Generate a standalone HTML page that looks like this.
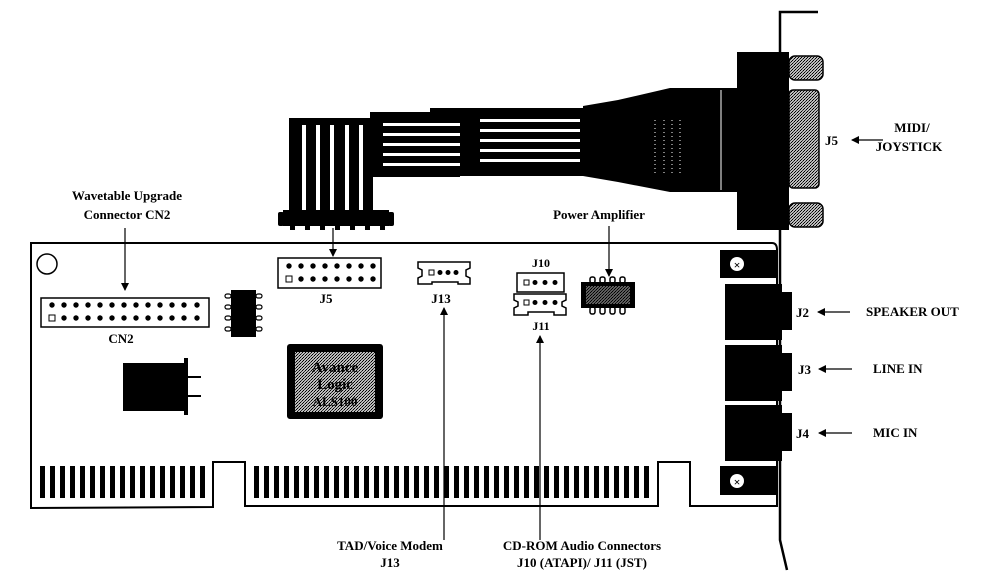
<!DOCTYPE html>
<html><head><meta charset="utf-8"><style>
html,body{margin:0;padding:0;background:#fff;}
svg{display:block;}
text{font-family:"Liberation Serif",serif;font-weight:bold;fill:#000;}
</style></head><body>
<svg width="984" height="579" viewBox="0 0 984 579" xmlns="http://www.w3.org/2000/svg">
<defs>
<pattern id="g" width="3" height="3" patternUnits="userSpaceOnUse"><rect width="3" height="3" fill="#bbb"/><rect width="1" height="1" fill="#000"/><rect x="2" y="1" width="1" height="1" fill="#000"/><rect x="1" y="2" width="1" height="1" fill="#333"/></pattern>
<marker id="ah" markerWidth="8" markerHeight="8" refX="7" refY="4" orient="auto" markerUnits="userSpaceOnUse"><path d="M0,0 L8,4 L0,8 z" fill="#000"/></marker>
</defs>

<path d="M31,508 L31,243 L772,243 Q777,243 777,250 L777,506 L690,506 L690,462 L658,462 L658,506 L245,506 L245,462 L213,462 L213,507 Z" fill="none" stroke="#000" stroke-width="2"/>

<g fill="#000">
<rect x="40" y="466" width="5" height="32"/><rect x="50" y="466" width="5" height="32"/><rect x="60" y="466" width="5" height="32"/><rect x="70" y="466" width="5" height="32"/><rect x="80" y="466" width="5" height="32"/><rect x="90" y="466" width="5" height="32"/><rect x="100" y="466" width="5" height="32"/><rect x="110" y="466" width="5" height="32"/><rect x="120" y="466" width="5" height="32"/><rect x="130" y="466" width="5" height="32"/><rect x="140" y="466" width="5" height="32"/><rect x="150" y="466" width="5" height="32"/><rect x="160" y="466" width="5" height="32"/><rect x="170" y="466" width="5" height="32"/><rect x="180" y="466" width="5" height="32"/><rect x="190" y="466" width="5" height="32"/><rect x="200" y="466" width="5" height="32"/>
</g>
<g fill="#000">
<rect x="254" y="466" width="5" height="32"/><rect x="264" y="466" width="5" height="32"/><rect x="274" y="466" width="5" height="32"/><rect x="284" y="466" width="5" height="32"/><rect x="294" y="466" width="5" height="32"/><rect x="304" y="466" width="5" height="32"/><rect x="314" y="466" width="5" height="32"/><rect x="324" y="466" width="5" height="32"/><rect x="334" y="466" width="5" height="32"/><rect x="344" y="466" width="5" height="32"/><rect x="354" y="466" width="5" height="32"/><rect x="364" y="466" width="5" height="32"/><rect x="374" y="466" width="5" height="32"/><rect x="384" y="466" width="5" height="32"/><rect x="394" y="466" width="5" height="32"/><rect x="404" y="466" width="5" height="32"/><rect x="414" y="466" width="5" height="32"/><rect x="424" y="466" width="5" height="32"/><rect x="434" y="466" width="5" height="32"/><rect x="444" y="466" width="5" height="32"/><rect x="454" y="466" width="5" height="32"/><rect x="464" y="466" width="5" height="32"/><rect x="474" y="466" width="5" height="32"/><rect x="484" y="466" width="5" height="32"/><rect x="494" y="466" width="5" height="32"/><rect x="504" y="466" width="5" height="32"/><rect x="514" y="466" width="5" height="32"/><rect x="524" y="466" width="5" height="32"/><rect x="534" y="466" width="5" height="32"/><rect x="544" y="466" width="5" height="32"/><rect x="554" y="466" width="5" height="32"/><rect x="564" y="466" width="5" height="32"/><rect x="574" y="466" width="5" height="32"/><rect x="584" y="466" width="5" height="32"/><rect x="594" y="466" width="5" height="32"/><rect x="604" y="466" width="5" height="32"/><rect x="614" y="466" width="5" height="32"/><rect x="624" y="466" width="5" height="32"/><rect x="634" y="466" width="5" height="32"/><rect x="644" y="466" width="5" height="32"/>
</g>

<circle cx="47" cy="264" r="10" fill="none" stroke="#000" stroke-width="1.5"/>

<rect x="41" y="298" width="168" height="29" fill="#fff" stroke="#000" stroke-width="1.5"/>
<g fill="#000">
<circle cx="52" cy="305" r="2.7"/><circle cx="64" cy="305" r="2.7"/><circle cx="76" cy="305" r="2.7"/><circle cx="88" cy="305" r="2.7"/><circle cx="100" cy="305" r="2.7"/><circle cx="112" cy="305" r="2.7"/><circle cx="124" cy="305" r="2.7"/><circle cx="136" cy="305" r="2.7"/><circle cx="148" cy="305" r="2.7"/><circle cx="160" cy="305" r="2.7"/><circle cx="172" cy="305" r="2.7"/><circle cx="184" cy="305" r="2.7"/><circle cx="197" cy="305" r="2.7"/>
<circle cx="64" cy="318" r="2.7"/><circle cx="76" cy="318" r="2.7"/><circle cx="88" cy="318" r="2.7"/><circle cx="100" cy="318" r="2.7"/><circle cx="112" cy="318" r="2.7"/><circle cx="124" cy="318" r="2.7"/><circle cx="136" cy="318" r="2.7"/><circle cx="148" cy="318" r="2.7"/><circle cx="160" cy="318" r="2.7"/><circle cx="172" cy="318" r="2.7"/><circle cx="184" cy="318" r="2.7"/><circle cx="197" cy="318" r="2.7"/>
</g>
<rect x="49" y="315" width="6" height="6" fill="#fff" stroke="#000"/>
<text x="121" y="343" font-size="13" text-anchor="middle">CN2</text>

<rect x="231" y="290" width="25" height="47" fill="#000"/>
<g fill="#fff" stroke="#000" stroke-width="1.2">
<rect x="225" y="294" width="6" height="4" rx="2"/><rect x="225" y="305" width="6" height="4" rx="2"/><rect x="225" y="316" width="6" height="4" rx="2"/><rect x="225" y="327" width="6" height="4" rx="2"/>
<rect x="256" y="294" width="6" height="4" rx="2"/><rect x="256" y="305" width="6" height="4" rx="2"/><rect x="256" y="316" width="6" height="4" rx="2"/><rect x="256" y="327" width="6" height="4" rx="2"/>
</g>

<rect x="123" y="363" width="62" height="48" fill="#000"/>
<rect x="184" y="358" width="4" height="57" fill="#000"/>
<rect x="188" y="376" width="13" height="2" fill="#000"/>
<rect x="188" y="395" width="13" height="2" fill="#000"/>

<rect x="287" y="344" width="96" height="75" rx="3" fill="#000"/>
<rect x="295" y="352" width="80" height="60" fill="url(#g)"/>
<text x="335" y="372" font-size="15" text-anchor="middle">Avance</text>
<text x="335" y="389" font-size="15" text-anchor="middle">Logic</text>
<text x="335" y="406" font-size="13" text-anchor="middle">ALS100</text>

<rect x="278" y="258" width="103" height="30" fill="#fff" stroke="#000" stroke-width="1.5"/>
<g fill="#000">
<circle cx="289" cy="266" r="2.7"/><circle cx="301" cy="266" r="2.7"/><circle cx="313" cy="266" r="2.7"/><circle cx="325" cy="266" r="2.7"/><circle cx="337" cy="266" r="2.7"/><circle cx="349" cy="266" r="2.7"/><circle cx="361" cy="266" r="2.7"/><circle cx="373" cy="266" r="2.7"/>
<circle cx="301" cy="279" r="2.7"/><circle cx="313" cy="279" r="2.7"/><circle cx="325" cy="279" r="2.7"/><circle cx="337" cy="279" r="2.7"/><circle cx="349" cy="279" r="2.7"/><circle cx="361" cy="279" r="2.7"/><circle cx="373" cy="279" r="2.7"/>
</g>
<rect x="286" y="276" width="6" height="6" fill="#fff" stroke="#000"/>
<text x="326" y="303" font-size="13" text-anchor="middle">J5</text>

<path d="M418,262 L470,262 L470,268 L466,270 L466,276 L470,278 L470,284 L458,284 L458,282 L432,282 L432,284 L418,284 L418,278 L422,276 L422,270 L418,268 Z" fill="#fff" stroke="#000" stroke-width="1.5"/>
<rect x="429" y="270" width="5" height="5" fill="#fff" stroke="#000"/>
<circle cx="440" cy="272.5" r="2.5"/><circle cx="448" cy="272.5" r="2.5"/><circle cx="456" cy="272.5" r="2.5"/>
<text x="441" y="303" font-size="13" text-anchor="middle">J13</text>

<text x="541" y="267" font-size="12" text-anchor="middle">J10</text>
<rect x="517" y="273" width="47" height="19" fill="#fff" stroke="#000" stroke-width="1.5"/>
<rect x="524" y="280" width="5" height="5" fill="#fff" stroke="#000"/>
<circle cx="535" cy="282.5" r="2.5"/><circle cx="545" cy="282.5" r="2.5"/><circle cx="555" cy="282.5" r="2.5"/>
<path d="M514,294 L566,294 L566,300 L562,302 L562,306 L566,308 L566,315 L554,315 L554,312 L528,312 L528,315 L514,315 L514,308 L518,306 L518,302 L514,300 Z" fill="#fff" stroke="#000" stroke-width="1.5"/>
<rect x="524" y="300" width="5" height="5" fill="#fff" stroke="#000"/>
<circle cx="535" cy="302.5" r="2.5"/><circle cx="545" cy="302.5" r="2.5"/><circle cx="555" cy="302.5" r="2.5"/>
<text x="541" y="330" font-size="12" text-anchor="middle">J11</text>

<g fill="#fff" stroke="#000" stroke-width="1.5">
<rect x="590" y="277" width="5" height="6" rx="2"/><rect x="600" y="277" width="5" height="6" rx="2"/><rect x="610" y="277" width="5" height="6" rx="2"/><rect x="620" y="277" width="5" height="6" rx="2"/>
<rect x="590" y="307" width="5" height="7" rx="2"/><rect x="600" y="307" width="5" height="7" rx="2"/><rect x="610" y="307" width="5" height="7" rx="2"/><rect x="620" y="307" width="5" height="7" rx="2"/>
</g>
<rect x="581" y="282" width="54" height="26" fill="#000"/>
<rect x="586" y="286" width="44" height="18" fill="url(#g)" opacity="0.5"/>

<rect x="289" y="118" width="84" height="102" fill="#000"/>
<g fill="#fff"><rect x="302" y="125" width="4" height="90"/><rect x="316" y="125" width="4" height="90"/><rect x="330" y="125" width="4" height="90"/><rect x="345" y="125" width="4" height="90"/><rect x="359" y="125" width="4" height="90"/></g>
<rect x="283" y="210" width="106" height="16" fill="#000"/>
<rect x="278" y="212" width="6" height="14" rx="2" fill="#000"/>
<rect x="388" y="212" width="6" height="14" rx="2" fill="#000"/>
<g fill="#000"><rect x="290" y="226" width="5" height="4"/><rect x="305" y="226" width="5" height="4"/><rect x="320" y="226" width="5" height="4"/><rect x="335" y="226" width="5" height="4"/><rect x="350" y="226" width="5" height="4"/><rect x="365" y="226" width="5" height="4"/><rect x="380" y="226" width="5" height="4"/></g>

<rect x="370" y="112" width="90" height="65" fill="#000"/>
<rect x="430" y="108" width="160" height="68" fill="#000"/>
<g fill="#fff">
<rect x="383" y="123" width="77" height="3"/><rect x="383" y="133" width="77" height="3"/><rect x="383" y="143" width="77" height="3"/><rect x="383" y="153" width="77" height="3"/><rect x="383" y="163" width="77" height="3"/>
<rect x="480" y="119" width="100" height="3"/><rect x="480" y="129" width="100" height="3"/><rect x="480" y="139" width="100" height="3"/><rect x="480" y="149" width="100" height="3"/><rect x="480" y="159" width="100" height="3"/>
</g>
<path d="M583,106 L618,100 L670,88 L740,88 L740,192 L670,192 L618,182 L583,176 Z" fill="#000"/>
<line x1="721" y1="90" x2="721" y2="190" stroke="#fff" stroke-width="1"/>
<g stroke="#fff" stroke-width="1" stroke-dasharray="1,3"><line x1="655" y1="120" x2="655" y2="175"/><line x1="664" y1="120" x2="664" y2="175"/><line x1="672" y1="120" x2="672" y2="175"/><line x1="680" y1="120" x2="680" y2="175"/></g>

<rect x="737" y="52" width="52" height="178" fill="#000"/>
<rect x="789" y="56" width="34" height="24" rx="6" fill="url(#g)" stroke="#000" stroke-width="1.5"/>
<rect x="789" y="203" width="34" height="24" rx="6" fill="url(#g)" stroke="#000" stroke-width="1.5"/>
<rect x="789" y="90" width="30" height="98" rx="4" fill="url(#g)" stroke="#000" stroke-width="1.5"/>

<path d="M818,12 L780,12 L780,540 L787,570" fill="none" stroke="#000" stroke-width="2.5"/>

<rect x="720" y="250" width="58" height="28" fill="#000"/>
<circle cx="737" cy="264" r="7" fill="#fff"/><text x="737" y="269" font-size="12" text-anchor="middle" font-family="DejaVu Sans">×</text>
<rect x="720" y="466" width="58" height="29" fill="#000"/>
<circle cx="737" cy="481" r="7" fill="#fff"/><text x="737" y="486" font-size="12" text-anchor="middle" font-family="DejaVu Sans">×</text>
<rect x="725" y="284" width="57" height="56" fill="#000"/><rect x="780" y="292" width="12" height="38" fill="#000"/>
<rect x="725" y="345" width="57" height="56" fill="#000"/><rect x="780" y="353" width="12" height="38" fill="#000"/>
<rect x="725" y="405" width="57" height="56" fill="#000"/><rect x="780" y="413" width="12" height="38" fill="#000"/>

<text x="825" y="145" font-size="13">J5</text>
<line x1="883" y1="140" x2="852" y2="140" stroke="#000" stroke-width="1.3" marker-end="url(#ah)"/>
<text x="912" y="132" font-size="13" text-anchor="middle">MIDI/</text>
<text x="909" y="151" font-size="13" text-anchor="middle">JOYSTICK</text>

<text x="796" y="317" font-size="13">J2</text>
<line x1="850" y1="312" x2="818" y2="312" stroke="#000" stroke-width="1.3" marker-end="url(#ah)"/>
<text x="866" y="316" font-size="13">SPEAKER OUT</text>
<text x="798" y="374" font-size="13">J3</text>
<line x1="852" y1="369" x2="819" y2="369" stroke="#000" stroke-width="1.3" marker-end="url(#ah)"/>
<text x="873" y="373" font-size="13">LINE IN</text>
<text x="796" y="438" font-size="13">J4</text>
<line x1="852" y1="433" x2="819" y2="433" stroke="#000" stroke-width="1.3" marker-end="url(#ah)"/>
<text x="873" y="437" font-size="13">MIC IN</text>

<text x="127" y="200" font-size="13" text-anchor="middle">Wavetable Upgrade</text>
<text x="127" y="219" font-size="13" text-anchor="middle">Connector CN2</text>
<line x1="125" y1="228" x2="125" y2="290" stroke="#000" stroke-width="1.2" marker-end="url(#ah)"/>
<line x1="333" y1="228" x2="333" y2="256" stroke="#000" stroke-width="1.2" marker-end="url(#ah)"/>
<text x="599" y="219" font-size="13" text-anchor="middle">Power Amplifier</text>
<line x1="609" y1="226" x2="609" y2="276" stroke="#000" stroke-width="1.2" marker-end="url(#ah)"/>

<line x1="444" y1="540" x2="444" y2="308" stroke="#000" stroke-width="1.2" marker-end="url(#ah)"/>
<line x1="540" y1="540" x2="540" y2="336" stroke="#000" stroke-width="1.2" marker-end="url(#ah)"/>
<text x="390" y="550" font-size="13" text-anchor="middle">TAD/Voice Modem</text>
<text x="390" y="567" font-size="13" text-anchor="middle">J13</text>
<text x="582" y="550" font-size="13" text-anchor="middle">CD-ROM Audio Connectors</text>
<text x="582" y="567" font-size="13" text-anchor="middle">J10 (ATAPI)/ J11 (JST)</text>
</svg>
</body></html>
